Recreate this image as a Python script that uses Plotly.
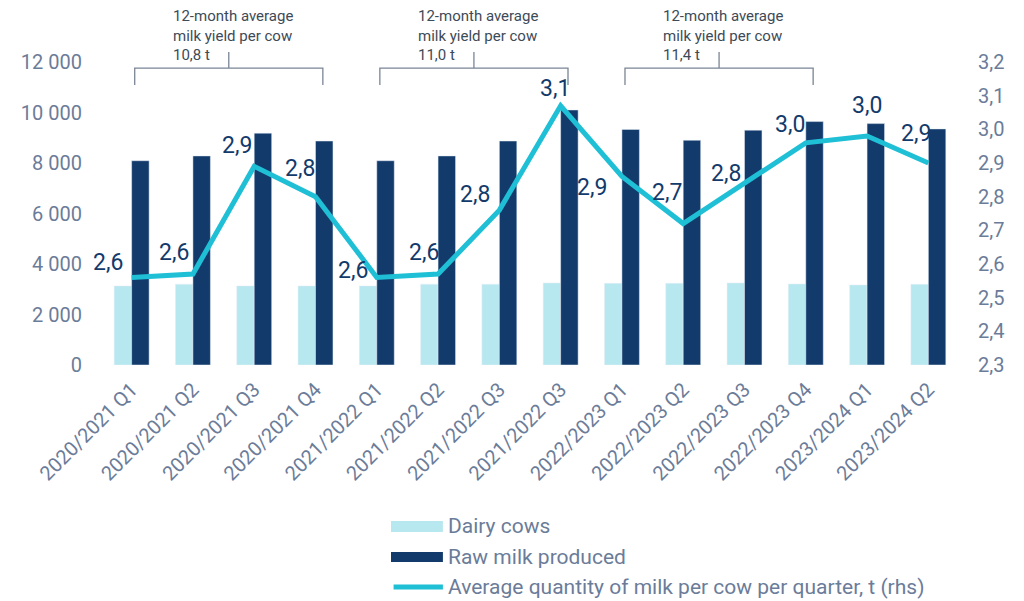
import plotly.graph_objects as go

quarters = ["2020/2021 Q1", "2020/2021 Q2", "2020/2021 Q3", "2020/2021 Q4",
            "2021/2022 Q1", "2021/2022 Q2", "2021/2022 Q3", "2021/2022 Q3",
            "2022/2023 Q1", "2022/2023 Q2", "2022/2023 Q3", "2022/2023 Q4",
            "2023/2024 Q1", "2023/2024 Q2"]
dairy_cows = [3130, 3200, 3130, 3130, 3130, 3200, 3200, 3250, 3235, 3235, 3250, 3210, 3170, 3195]
raw_milk = [8090, 8280, 9180, 8870, 8090, 8280, 8870, 10100, 9330, 8900, 9300, 9640, 9560, 9350]
milk_per_cow = [2.56, 2.57, 2.89, 2.80, 2.56, 2.57, 2.76, 3.07, 2.86, 2.72, 2.84, 2.96, 2.98, 2.90]

# 12-month average yield brackets: first quarter index, label
yield_start = [0, 4, 8]
yield_text = ["10,8 t", "11,0 t", "11,4 t"]

# label offsets (px) for the line values
label_dx = [-24, -19, -17, -16, -24, -14, -24, -6, -30, -16, -19, -16, 0, -12]
label_dy = [-15, -22, -21, -28, -7, -22, -16, -17, 11, -31, -10, -18, -31, -30]

light = "#b8e8ef"
navy = "#123a6b"
cyan = "#1fbfd6"
tickcol = "#6b7c99"
font = "Roboto"

x_idx = list(range(len(quarters)))

fig = go.Figure()
fig.add_trace(go.Bar(x=x_idx, y=dairy_cows, name="Dairy cows", marker_color=light))
fig.add_trace(go.Bar(x=x_idx, y=raw_milk, name="Raw milk produced", marker_color=navy))
fig.add_trace(go.Scatter(x=x_idx, y=milk_per_cow, yaxis="y2", mode="lines",
                         name="Average quantity of milk per cow per quarter, t (rhs)",
                         line=dict(color=cyan, width=5)))

annotations = []
for i, v in enumerate(milk_per_cow):
    annotations.append(dict(x=i, y=v, xref="x", yref="y2", text=f"{v:.1f}".replace(".", ","),
                            showarrow=False, xshift=label_dx[i], yshift=-label_dy[i],
                            font=dict(family=font, size=23, color=navy)))

shapes = []
bcol = "#7a8595"
for s, t in zip(yield_start, yield_text):
    x0, x1 = s + 0.05, s + 3.12
    xm = (x0 + x1) / 2
    shapes.append(dict(type="path", xref="x", yref="paper",
                       path=f"M {x0},0.924 L {x0},0.980 L {x1},0.980 L {x1},0.924",
                       line=dict(color=bcol, width=1.3)))
    shapes.append(dict(type="line", xref="x", yref="paper", x0=xm, x1=xm, y0=0.980, y1=1.033,
                       line=dict(color=bcol, width=1.3)))
    annotations.append(dict(x=s + 0.66, y=1.185, xref="x", yref="paper", xanchor="left",
                            yanchor="top", align="left", showarrow=False, borderpad=0,
                            text="12-month average<br>milk yield per cow<br>" + t,
                            font=dict(family=font, size=15, color="#3d4a57")))

# custom legend
leg_rows = [-0.531, -0.634, -0.733]
shapes.append(dict(type="rect", xref="paper", yref="paper", x0=0.338, x1=0.3985,
                   y0=-0.551, y1=-0.515, fillcolor=light, line=dict(width=0)))
shapes.append(dict(type="rect", xref="paper", yref="paper", x0=0.338, x1=0.3985,
                   y0=-0.650, y1=-0.617, fillcolor=navy, line=dict(width=0)))
shapes.append(dict(type="line", xref="paper", yref="paper", x0=0.341, x1=0.3985,
                   y0=leg_rows[2], y1=leg_rows[2], line=dict(color=cyan, width=5)))
for tr, yy in zip(fig.data, leg_rows):
    annotations.append(dict(x=0.402, y=yy, xref="paper", yref="paper", xanchor="left",
                            yanchor="middle", showarrow=False, text=tr.name,
                            font=dict(family=font, size=21, color=tickcol)))

# page body adds an 8px offset, margins compensate for it
fig.update_layout(
    width=1024, height=601,
    margin=dict(l=93, r=73, t=54, b=244, autoexpand=False),
    paper_bgcolor="white", plot_bgcolor="white",
    barmode="group", bargap=0.43, bargroupgap=0,
    separators=", ",
    showlegend=False,
    font=dict(family=font, color=tickcol),
    xaxis=dict(tickmode="array", tickvals=x_idx, ticktext=quarters, tickangle=-45,
               tickfont=dict(size=20, color=tickcol), showgrid=False, showline=False,
               range=[-0.5, len(quarters) - 0.5], ticklabelstandoff=8),
    yaxis=dict(range=[0, 12000], dtick=2000, tickformat=",d", showgrid=False,
               zeroline=False, tickfont=dict(size=20, color=tickcol), ticklabelstandoff=18),
    yaxis2=dict(range=[2.3, 3.2], dtick=0.1, tickformat=".1f", overlaying="y", side="right",
                showgrid=False, zeroline=False, tickfont=dict(size=20, color=tickcol),
                ticklabelstandoff=18),
    annotations=annotations,
    shapes=shapes,
)

fig.write_html("out.html")
